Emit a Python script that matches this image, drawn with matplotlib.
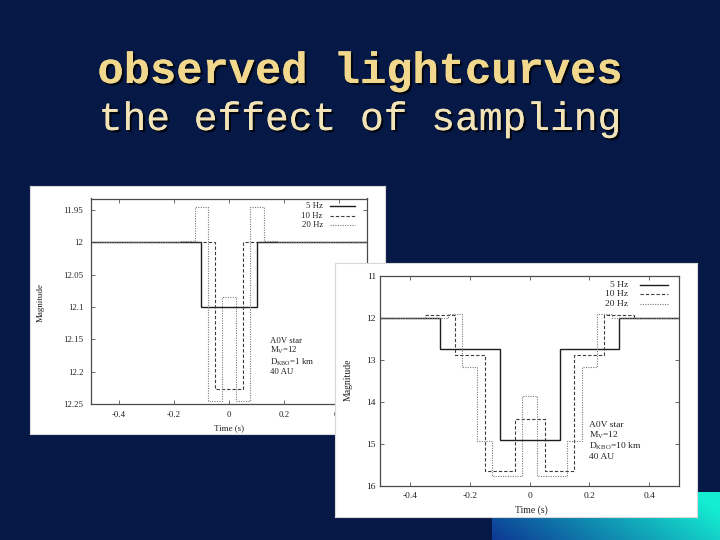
import matplotlib
matplotlib.use("Agg")
import matplotlib.pyplot as plt
import matplotlib.patheffects as pe
import numpy as np

# ---------------- data ----------------
TITLE = "observed lightcurves"
SUBTITLE = "the effect of sampling"
SERIES = ["5 Hz", "10 Hz", "20 Hz"]

# left chart (1 km KBO)
t5_a = [-0.5, -0.3, -0.1, 0.1, 0.3, 0.5]
m5_a = [12.0, 12.0, 12.1, 12.0, 12.0]
t10_a = [-0.5, -0.35, -0.25, -0.15, -0.05, 0.05, 0.15, 0.25, 0.35, 0.5]
m10_a = [12.0, 12.0, 12.0, 12.0, 12.227, 12.0, 12.0, 12.0, 12.0]
t20_a = [-0.5, -0.175, -0.125, -0.075, -0.025, 0.025, 0.075, 0.125, 0.175, 0.5]
m20_a = [12.0, 11.998, 11.945, 12.245, 12.085, 12.245, 11.945, 11.998, 12.0]
yticks_a = [11.95, 12.0, 12.05, 12.1, 12.15, 12.2, 12.25]
yticklabels_a = ["11.95", "12", "12.05", "12.1", "12.15", "12.2", "12.25"]
ylim_a = (12.25, 11.932)
note_a = "A0V star\nM$_\\mathrm{V}$=12\nD$_\\mathrm{KBO}$=1 km\n40 AU"

# right chart (10 km KBO)
t5_b = [-0.5, -0.3, -0.1, 0.1, 0.3, 0.5]
m5_b = [12.0, 12.75, 14.9, 12.75, 12.0]
t10_b = [-0.5, -0.35, -0.25, -0.15, -0.05, 0.05, 0.15, 0.25, 0.35, 0.5]
m10_b = [12.0, 11.93, 12.88, 15.66, 14.41, 15.66, 12.88, 11.93, 12.0]
t20_b = [-0.5, -0.275, -0.225, -0.175, -0.125, -0.025, 0.025, 0.125, 0.175, 0.225, 0.275, 0.5]
m20_b = [12.0, 11.9, 13.17, 14.93, 15.77, 13.86, 15.77, 14.93, 13.17, 11.9, 12.0]
yticks_b = [11, 12, 13, 14, 15, 16]
yticklabels_b = ["11", "12", "13", "14", "15", "16"]
ylim_b = (16, 11)
note_b = "A0V star\nM$_\\mathrm{V}$=12\nD$_\\mathrm{KBO}$=10 km\n40 AU"

xticks = [-0.4, -0.2, 0, 0.2, 0.4]
xticklabels = ["-0.4", "-0.2", "0", "0.2", "0.4"]
xlim = (-0.5, 0.5)

# ---------------- style ----------------
plt.rcParams["font.family"] = ["Liberation Serif", "DejaVu Serif"]
plt.rcParams["mathtext.fontset"] = "custom"
plt.rcParams["mathtext.rm"] = "Liberation Serif"
plt.rcParams["mathtext.it"] = "Liberation Serif:italic"
plt.rcParams["mathtext.bf"] = "Liberation Serif:bold"

BG = "#061946"
W, H = 720, 540
fig = plt.figure(figsize=(7.2, 5.4), dpi=100)
fig.patch.set_facecolor(BG)


def fax(x0, y0, x1, y1, **kw):
    return fig.add_axes([x0 / W, 1 - y1 / H, (x1 - x0) / W, (y1 - y0) / H], **kw)


def fpos(x, y):
    return x / W, 1 - y / H


# bottom-right gradient bar
g = fax(492, 492, 720, 540)
u = np.linspace(0, 1, 200)[None, :]
v = np.linspace(0, 1, 40)[:, None]
t = np.clip(0.85 * u + 0.25 * (1 - v), 0, 1)
c0 = np.array([0.05, 0.22, 0.58])
c1 = np.array([0.08, 0.93, 0.82])
img = c0[None, None, :] * (1 - t[..., None]) + c1[None, None, :] * t[..., None]
g.imshow(img, aspect="auto", extent=(0, 1, 0, 1))
g.set_axis_off()

# titles with shadow
shadow = [pe.withSimplePatchShadow(offset=(1.6, -1.6), shadow_rgbFace="black", alpha=0.75),
          pe.Normal()]
for txt, y, size, weight, col in [
    (TITLE, 83, 31.5, "bold", "#f2d88c"),
    (SUBTITLE, 130, 28.5, "normal", "#f3e4b8"),
]:
    x0, y0 = fpos(360, y)
    fig.text(x0, y0, txt, ha="center", va="baseline", fontsize=size,
             fontweight=weight, family="Liberation Mono", color=col,
             path_effects=shadow)

STY = [
    dict(color="#1e1e1e", lw=1.0, ls="-"),
    dict(color="#3c3c3c", lw=0.8, ls=(0, (3, 1.8))),
    dict(color="#7a7a7a", lw=0.8, ls=(0, (1, 1.2))),
]


def chart(ax, series, yt, ytl, ylim, note, note_xy, fs, leg, pad_y, pad_x):
    for (tt, mm), st in zip(series, STY):
        ax.stairs(mm, tt, baseline=None, **st)
    ax.set_xlim(*xlim)
    ax.set_ylim(*ylim)
    ax.set_xticks(xticks)
    ax.set_xticklabels(xticklabels)
    ax.set_yticks(yt)
    ax.set_yticklabels(ytl)
    ax.tick_params(direction="in", length=3, width=0.6, top=True, right=True,
                   labelsize=fs, colors="#222222", color="#555555")
    ax.tick_params(axis="y", pad=pad_y)
    ax.tick_params(axis="x", pad=pad_x)
    for s in ax.spines.values():
        s.set_color("#4a4a4a")
        s.set_linewidth(0.9)
    ax.text(note_xy[0], note_xy[1], note, fontsize=fs, va="top", ha="left",
            color="#222222", linespacing=1.05)
    # legend
    tx, l0, l1, rows = leg
    for name, st, ry in zip(SERIES, STY, rows):
        ax.text(tx, ry, name, transform=ax.transAxes, ha="right", va="center",
                fontsize=fs, color="#222222")
        ax.plot([l0, l1], [ry, ry], transform=ax.transAxes, **st)


# panel 1
p1 = fax(30, 186, 385, 434)
p1.set_facecolor("white")
p1.set_xticks([]); p1.set_yticks([])
for s in p1.spines.values():
    s.set_color("#d8d8d8")
ax1 = fax(91, 198.5, 367, 404)
chart(ax1, [(t5_a, m5_a), (t10_a, m10_a), (t20_a, m20_a)], yticks_a, yticklabels_a,
      ylim_a, note_a, (0.15, 12.146), 6.3,
      (0.84, 0.866, 0.957, [0.963, 0.916, 0.871]), 5.5, 5)
x, y = fpos(41, 302)
fig.text(x, y, "Magnitude", rotation=90, ha="center", va="center", fontsize=6.5, color="#222222")
x, y = fpos(229, 428)
fig.text(x, y, "Time (s)", ha="center", va="center", fontsize=6.5, color="#222222")

# panel 2
p2 = fax(335, 263, 697, 517)
p2.set_facecolor("white")
p2.set_xticks([]); p2.set_yticks([])
for s in p2.spines.values():
    s.set_color("#d8d8d8")
ax2 = fax(380.3, 276, 679, 485.7)
chart(ax2, [(t5_b, m5_b), (t10_b, m10_b), (t20_b, m20_b)], yticks_b, yticklabels_b,
      ylim_b, note_b, (0.2, 14.46), 6.8,
      (0.829, 0.869, 0.963, [0.958, 0.912, 0.866]), 3, 4.5)
x, y = fpos(348, 380)
fig.text(x, y, "Magnitude", rotation=90, ha="center", va="center", fontsize=7, color="#222222")
x, y = fpos(531, 510)
fig.text(x, y, "Time (s)", ha="center", va="center", fontsize=7, color="#222222")

fig.savefig("out.png", dpi=100, facecolor=fig.get_facecolor())
